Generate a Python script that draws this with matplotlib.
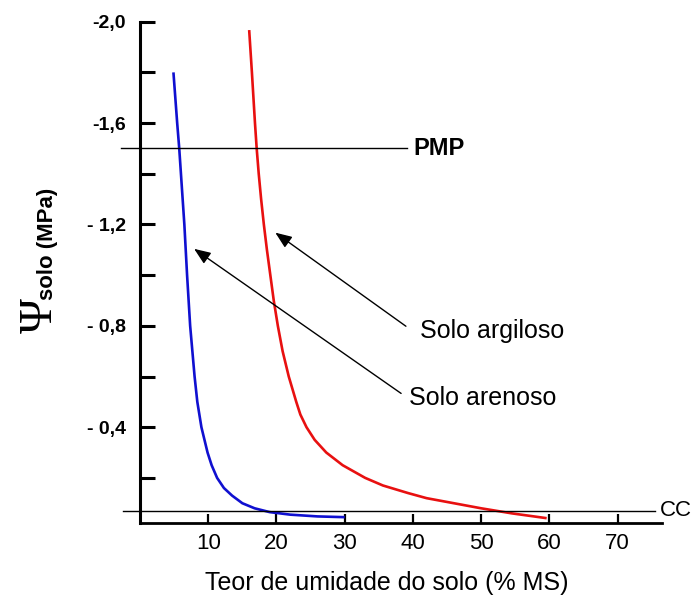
import matplotlib
matplotlib.use("Agg")
import matplotlib.pyplot as plt
import numpy as np

# ---- data ----
sand_x = [4.9, 5.45, 5.75, 6.0, 6.5, 6.9, 7.35, 8.0, 8.4, 9.0, 9.9, 10.5, 11.3, 12.3, 13.5, 15.0, 16.8, 19.0, 22.0, 26.0, 30.0]
sand_y = [-1.80, -1.60, -1.50, -1.40, -1.20, -1.00, -0.80, -0.60, -0.50, -0.40, -0.30, -0.25, -0.20, -0.16, -0.13, -0.10, -0.08, -0.065, -0.055, -0.048, -0.045]

clay_x = [16.0, 16.4, 16.85, 17.1, 17.4, 17.75, 18.15, 18.6, 19.1, 19.6, 20.2, 20.9, 21.8, 22.9, 23.5, 24.4, 25.6, 27.3, 29.7, 33.0, 35.6, 39.3, 42.0, 46.0, 50.0, 54.5, 59.6]
clay_y = [-1.967, -1.80, -1.60, -1.50, -1.40, -1.30, -1.20, -1.10, -1.00, -0.90, -0.80, -0.70, -0.60, -0.50, -0.45, -0.40, -0.35, -0.30, -0.25, -0.20, -0.17, -0.14, -0.12, -0.10, -0.08, -0.06, -0.041]

pmp_value = -1.5
cc_value = -0.07

y_major = [-2.0, -1.6, -1.2, -0.8, -0.4]
y_major_labels = ["-2,0", "-1,6", "- 1,2", "- 0,8", "- 0,4"]
y_minor = [-1.8, -1.4, -1.0, -0.6, -0.2]
x_ticks = [10, 20, 30, 40, 50, 60, 70]
x_tick_labels = ["10", "20", "30", "40", "50", "60", "70"]

plt.rcParams['font.family'] = ['Liberation Sans', 'DejaVu Sans']

W, H = 699, 597
fig = plt.figure(figsize=(W / 100, H / 100), dpi=100)
ax = fig.add_axes([140 / W, (H - 523) / H, (662 - 140) / W, (523 - 21.7) / H])

ax.plot(sand_x, sand_y, color='#1010d0', lw=1.9, solid_capstyle='butt', solid_joinstyle='round')
ax.plot(clay_x, clay_y, color='#e81010', lw=1.9, solid_capstyle='butt', solid_joinstyle='round')

ax.set_xlim(0, 76.5)
ax.set_ylim(-0.022, -2.0)

# reference lines
ax.plot([-2.8, 39.1], [pmp_value, pmp_value], color='black', lw=1.0, clip_on=False)
ax.plot([-2.5, 75.5], [cc_value, cc_value], color='black', lw=1.0, clip_on=False)
ax.text(40.0, pmp_value, "PMP", fontsize=17, fontweight='bold', va='center', ha='left')
ax.text(76.2, cc_value, "CC", fontsize=16, va='center', ha='left', clip_on=False)

# annotations
arrow_style = dict(arrowstyle='-|>,head_length=1.0,head_width=0.4', color='black', lw=1.0)
ax.annotate("", xy=(19.5, -1.174), xytext=(39.3, -0.792), arrowprops=arrow_style)
ax.annotate("", xy=(7.6, -1.11), xytext=(38.6, -0.527), arrowprops=arrow_style)
ax.text(41.1, -0.78, "Solo argiloso", fontsize=18, va='center', ha='left')
ax.text(39.4, -0.515, "Solo arenoso", fontsize=18, va='center', ha='left')

# axes style
for s in ['top', 'right']:
    ax.spines[s].set_visible(False)
ax.spines['left'].set_linewidth(2.2)
ax.spines['bottom'].set_linewidth(2.0)

ax.set_yticks(y_major)
ax.set_yticklabels(y_major_labels, fontsize=14, fontweight='bold')
ax.set_yticks(y_minor, minor=True)
ax.tick_params(axis='y', which='both', direction='in', length=11, width=2.2, pad=10)
ax.set_xticks(x_ticks)
ax.set_xticklabels(x_tick_labels, fontsize=16)
ax.tick_params(axis='x', direction='in', length=6.5, width=1.6, pad=7)

# x label
fig.text(387 / W, (H - 583) / H, "Teor de umidade do solo (% MS)", fontsize=18,
         ha='center', va='center')

# y label: Psi + "solo (MPa)"
fig.text(52 / W, (H - 333) / H, "\u03a8", fontsize=34, family=['Liberation Serif', 'DejaVu Serif'],
         rotation=90, rotation_mode='anchor', ha='left', va='baseline')
fig.text(53 / W, (H - 300) / H, "solo (MPa)", fontsize=16, fontweight='bold',
         rotation=90, rotation_mode='anchor', ha='left', va='baseline')

fig.savefig("out.png", dpi=100)
